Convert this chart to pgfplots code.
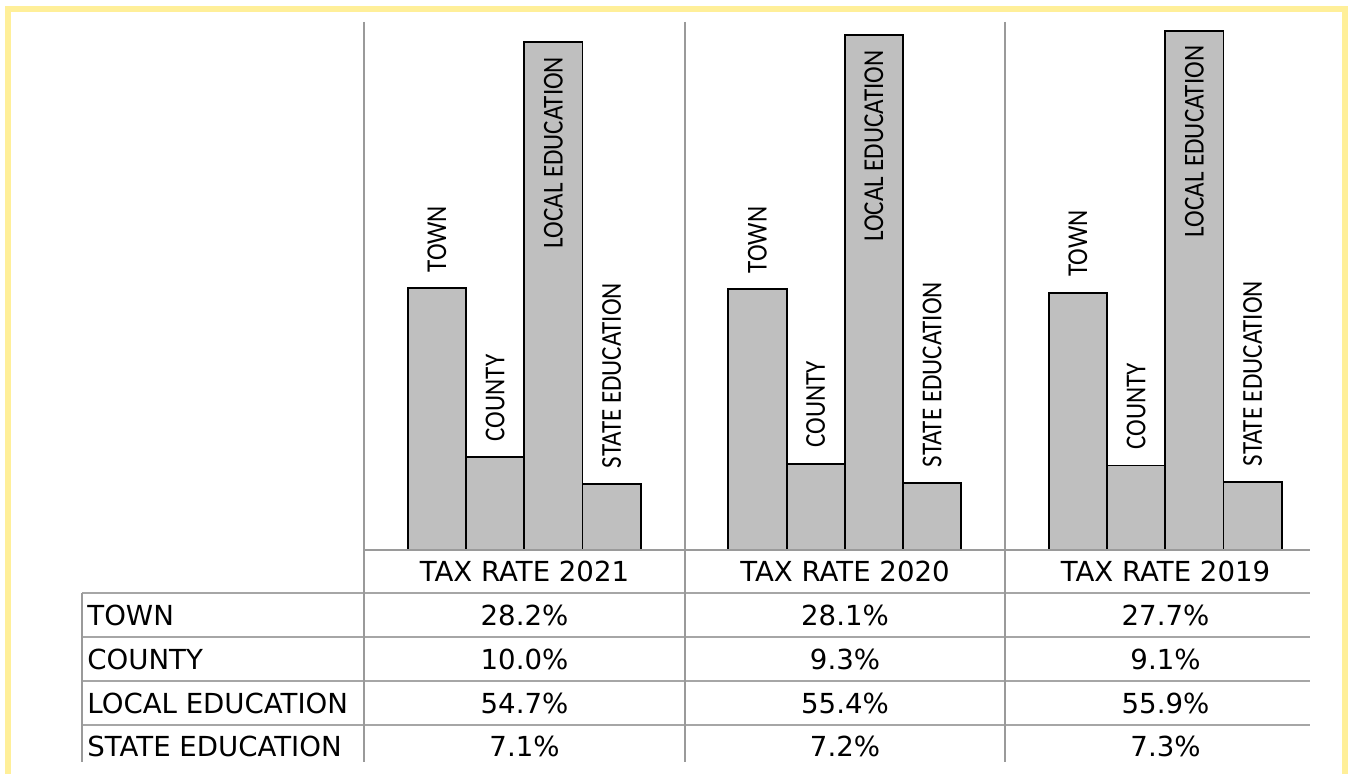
\documentclass[border=0pt]{standalone}
\usepackage{fontspec}
\setmainfont{DejaVu Sans}
\newfontfamily\carlito{Carlito}
\usepackage{graphicx}
\usepackage{pgfplots}
\pgfplotsset{compat=1.18}
\definecolor{bargray}{HTML}{BFBFBF}
\definecolor{gridgray}{HTML}{9A9A9A}
\definecolor{rowgray}{HTML}{A6A6A6}
\definecolor{frameyellow}{HTML}{FFEF99}
\newcommand{\lbl}[1]{\scalebox{0.87}[1]{#1}}
\begin{document}
\begin{tikzpicture}
\useasboundingbox (0,0) rectangle (674pt,387pt);
\fill[white] (0,0) rectangle (674pt,387pt);
\begin{axis}[
  at={(182pt,112pt)}, anchor=south west,
  scale only axis, width=480.75pt, height=264pt,
  xmin=-0.5, xmax=2.5, ymin=0, ymax=56.85,
  axis lines=none, xtick=\empty, ytick=\empty,
  clip=false,
  ybar=0pt, bar width=29.1pt,
  nodes near coords style={rotate=90, anchor=west, inner xsep=7.5pt, inner ysep=0pt,
    font={\carlito\fontsize{14.4}{17}\selectfont}, text=black},
]
\addplot[fill=bargray, draw=black, line width=0.95pt, nodes near coords={\lbl{TOWN}}]
  coordinates {(0,28.2) (1,28.1) (2,27.7)};
\addplot[fill=bargray, draw=black, line width=0.95pt, nodes near coords={\lbl{COUNTY}}]
  coordinates {(0,10.0) (1,9.3) (2,9.1)};
\addplot[fill=bargray, draw=black, line width=0.95pt, nodes near coords={\lbl{LOCAL EDUCATION}},
  nodes near coords style={anchor=east, inner xsep=7pt}]
  coordinates {(0,54.7) (1,55.4) (2,55.9)};
\addplot[fill=bargray, draw=black, line width=0.95pt, nodes near coords={\lbl{STATE EDUCATION}}]
  coordinates {(0,7.1) (1,7.2) (2,7.3)};
\end{axis}
% frame
\draw[frameyellow, line width=3pt] (4pt,0) -- (4pt,382.5pt) -- (672.5pt,382.5pt) -- (672.5pt,0);
% axis line and table rules
\draw[gridgray, line width=1.1pt] (182pt,112pt) -- (655pt,112pt);
\foreach \yy in {90.5,68.5,46.5,24.5} {
  \draw[rowgray, line width=0.9pt] (41pt,\yy pt) -- (655pt,\yy pt);
}
\foreach \xx in {182,342.5,502.5} {
  \draw[gridgray, line width=1.1pt] (\xx pt,376pt) -- (\xx pt,6pt);
}
\draw[gridgray, line width=0.9pt] (41pt,90.5pt) -- (41pt,6pt);
% table text
\begin{scope}[every node/.style={font={\fontsize{13.8}{16}\selectfont}, inner sep=0pt, text=black}]
\node at (262.25pt,101.25pt) {TAX RATE 2021};
\node at (422.5pt,101.25pt) {TAX RATE 2020};
\node at (582.75pt,101.25pt) {TAX RATE 2019};
\node[anchor=west] at (43.5pt,79.5pt) {TOWN};
\node[anchor=west] at (43.5pt,57.5pt) {COUNTY};
\node[anchor=west] at (43.5pt,35.5pt) {LOCAL EDUCATION};
\node[anchor=west] at (43.5pt,14pt) {STATE EDUCATION};
\node at (262.25pt,79.5pt) {28.2\%};
\node at (422.5pt,79.5pt) {28.1\%};
\node at (582.75pt,79.5pt) {27.7\%};
\node at (262.25pt,57.5pt) {10.0\%};
\node at (422.5pt,57.5pt) {9.3\%};
\node at (582.75pt,57.5pt) {9.1\%};
\node at (262.25pt,35.5pt) {54.7\%};
\node at (422.5pt,35.5pt) {55.4\%};
\node at (582.75pt,35.5pt) {55.9\%};
\node at (262.25pt,14pt) {7.1\%};
\node at (422.5pt,14pt) {7.2\%};
\node at (582.75pt,14pt) {7.3\%};
\end{scope}
\end{tikzpicture}
\end{document}
